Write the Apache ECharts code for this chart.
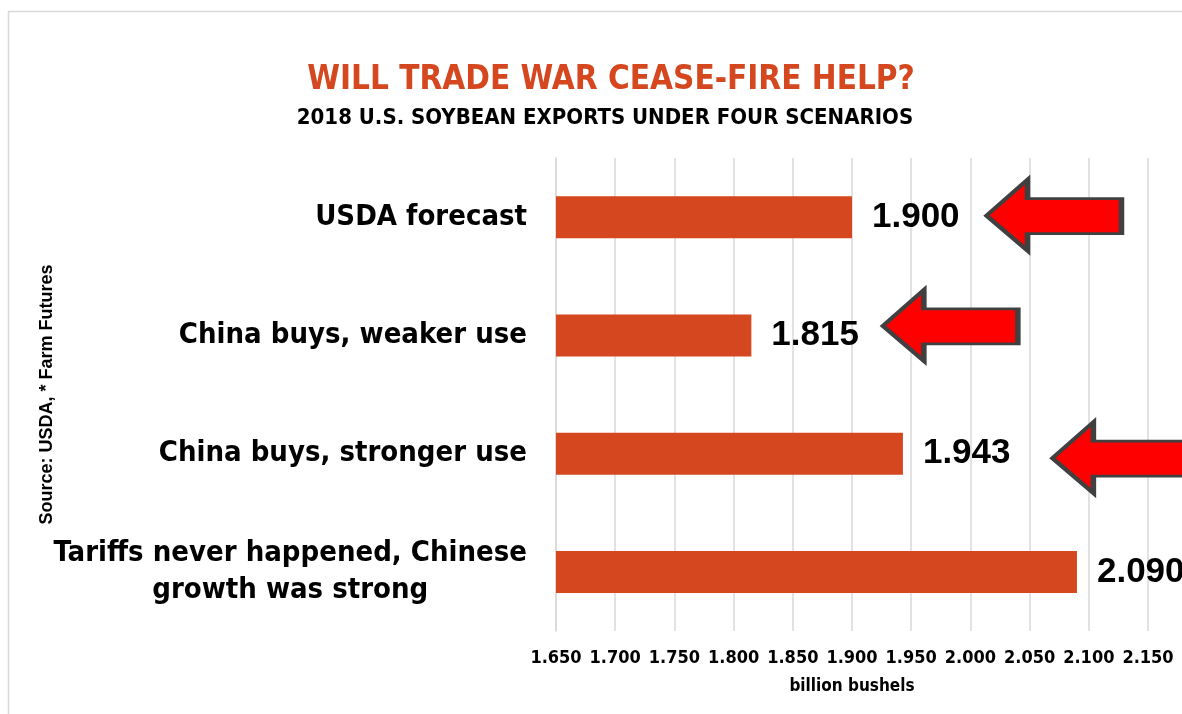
<!DOCTYPE html>
<html>
<head>
<meta charset="utf-8">
<script src="https://cdn.jsdelivr.net/npm/echarts@6/dist/echarts.min.js"></script>
<style>
  html, body { margin: 0; padding: 0; background: #fff; overflow: hidden; }
  #chart { width: 1182px; height: 714px; }
</style>
</head>
<body>
<div id="chart"></div>
<script>
// 2018 U.S. soybean export scenarios, billion bushels
const scenarios = [
  'USDA forecast',
  'China buys, weaker use',
  'China buys, stronger use',
  'Tariffs never happened, Chinese\ngrowth was strong'
];
const exportsBn = [1.900, 1.815, 1.943, 2.090];
// scenarios flagged with a call-out arrow
const flagged = [0, 1, 2];
const axisMin = 1.65;
const axisMax = 2.15;
const axisStep = 0.05;

const ORANGE = '#D4471F';
const NARROW = '"Liberation Sans Narrow", "DejaVu Sans Condensed", sans-serif';
const WIDE = '"Liberation Sans", Arial, sans-serif';

// left-pointing block arrow, tip on the left
const ARROW_PATH = 'path://M0,36 L41,0 L41,19 L135,19 L135,54 L41,54 L41,71 Z';
const arrowOffsets = [[202, -2], [199, -10], [217, 4]];

const chart = echarts.init(document.getElementById('chart'), null, { renderer: 'canvas' });

chart.setOption({
  animation: false,
  backgroundColor: '#fff',
  graphic: [
    {
      type: 'rect', silent: true, z: -10,
      shape: { x: 8.5, y: 11.5, width: 1400, height: 900 },
      style: { fill: 'none', stroke: '#d9d9d9', lineWidth: 1.5 }
    },
    {
      type: 'text', x: 611, y: 80,
      style: {
        text: 'WILL TRADE WAR CEASE-FIRE HELP?',
        fill: ORANGE, font: 'bold 33px ' + NARROW,
        align: 'center', verticalAlign: 'middle'
      }
    },
    {
      type: 'text', x: 605, y: 118,
      style: {
        text: '2018 U.S. SOYBEAN EXPORTS UNDER FOUR SCENARIOS',
        fill: '#000', font: 'bold 22px ' + NARROW,
        align: 'center', verticalAlign: 'middle'
      }
    }
  ],
  grid: { left: 556, right: 34, top: 158, bottom: 83, containLabel: false, outerBoundsMode: 'none' },
  xAxis: {
    type: 'value',
    min: axisMin, max: axisMax, interval: axisStep,
    name: 'billion bushels',
    nameLocation: 'middle',
    nameGap: 47,
    nameTextStyle: { fontFamily: NARROW, fontWeight: 'bold', fontSize: 17, color: '#000' },
    axisLine: { show: false },
    axisTick: { show: false },
    axisLabel: {
      margin: 18,
      fontFamily: NARROW, fontWeight: 'bold', fontSize: 18, color: '#000',
      formatter: v => v.toFixed(3)
    },
    splitLine: { show: true, lineStyle: { color: '#d9d9d9', width: 1.5 } }
  },
  yAxis: {
    type: 'category',
    data: scenarios,
    inverse: true,
    name: 'Source: USDA, * Farm Futures',
    nameLocation: 'middle',
    nameRotate: 90,
    nameGap: 500,
    nameMoveOverlap: false,
    nameTextStyle: { fontFamily: WIDE, fontWeight: 'bold', fontSize: 18, color: '#000' },
    axisLine: { show: true, lineStyle: { color: '#d9d9d9', width: 1.5 } },
    axisTick: { show: false },
    axisLabel: {
      margin: 29,
      align: 'right',
      formatter: v => v.split('\n').map(s => '{c|' + s + '}').join('\n'),
      rich: {
        c: { fontFamily: NARROW, fontWeight: 'bold', fontSize: 29, color: '#000', align: 'center', lineHeight: 37 }
      }
    }
  },
  series: [{
    type: 'bar',
    data: exportsBn,
    barWidth: 42,
    itemStyle: { color: ORANGE },
    label: {
      show: true,
      position: 'right',
      distance: 20,
      formatter: p => p.value.toFixed(3),
      fontFamily: WIDE, fontWeight: 'bold', fontSize: 35, color: '#000'
    },
    markPoint: {
      silent: true,
      symbol: ARROW_PATH,
      symbolSize: [135, 71],
      itemStyle: { color: '#ff0000', borderColor: '#404040', borderWidth: 4 },
      label: { show: false },
      data: flagged.map((i, k) => ({
        coord: [exportsBn[i], scenarios[i]],
        symbolOffset: arrowOffsets[k]
      }))
    }
  }]
});
</script>
</body>
</html>
